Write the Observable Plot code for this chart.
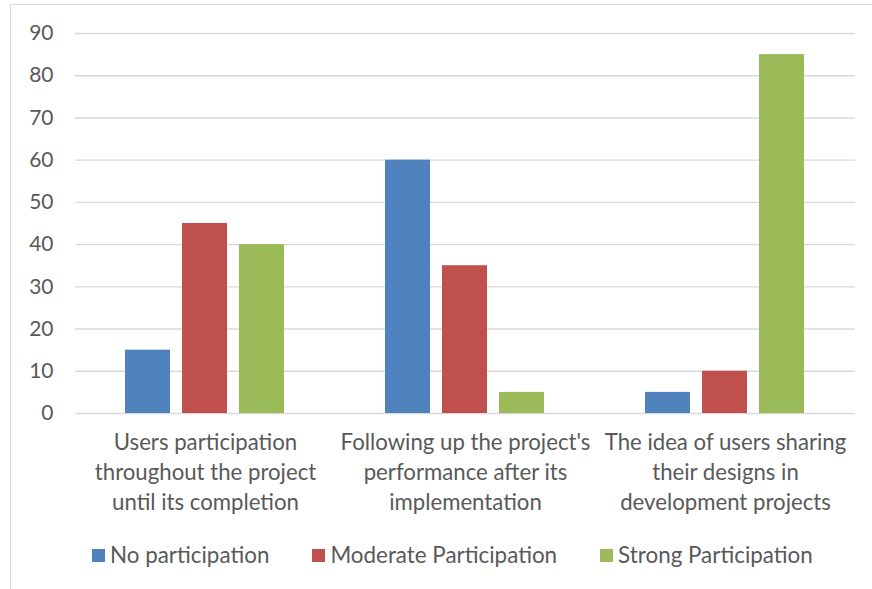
<!DOCTYPE html>
<html>
<head>
<meta charset="utf-8">
<script src="https://cdn.jsdelivr.net/npm/d3@7"></script>
<script src="https://cdn.jsdelivr.net/npm/@observablehq/plot@0.6"></script>
<style>
  html, body { margin: 0; padding: 0; background: #fff; overflow: hidden; }
  body { width: 872px; height: 589px; position: relative; font-family: Lato, "Open Sans", sans-serif; color: #595959; }
  #frame { position: absolute; left: 10px; top: 4px; width: 900px; height: 620px; border: 1px solid #d9d9d9; box-sizing: border-box; }
  #chart { position: absolute; left: 0; top: 0; }
  #legend { position: absolute; left: 92px; top: 541px; display: flex; gap: 43px; font-size: 22.4px; line-height: 28px; }
  #legend .item { display: flex; align-items: center; }
  #legend .sw { width: 13px; height: 13px; margin-right: 5px; display: inline-block; }
</style>
</head>
<body>
<div id="frame"></div>
<div id="chart"></div>
<div id="legend"></div>
<script>
const categories = [
  "Users participation throughout the project until its completion",
  "Following up the project's performance after its implementation",
  "The idea of users sharing their designs in development projects"
];
const categoryLabels = [
  "Users participation\nthroughout the project\nuntil its completion",
  "Following up the project's\nperformance after its\nimplementation",
  "The idea of users sharing\ntheir designs in\ndevelopment projects"
];
const series = ["No participation", "Moderate Participation", "Strong Participation"];
const colors = ["#4f81bd", "#c0504d", "#9bbb59"];
const noParticipation = [15, 60, 5];
const moderateParticipation = [45, 35, 10];
const strongParticipation = [40, 5, 85];
const yTicks = [0, 10, 20, 30, 40, 50, 60, 70, 80, 90];

const seriesValues = [noParticipation, moderateParticipation, strongParticipation];
const data = [];
categories.forEach((c, i) => {
  series.forEach((s, j) => data.push({category: c, series: s, value: seriesValues[j][i]}));
});
const labelOf = new Map(categories.map((c, i) => [c, categoryLabels[i]]));

const chart = Plot.plot({
  width: 872,
  height: 522,
  marginLeft: 75,
  marginRight: 17,
  marginTop: 33,
  marginBottom: 109,
  style: {fontFamily: "Lato, 'Open Sans', sans-serif", fontSize: "21px", color: "#595959", background: "transparent"},
  fx: {domain: categories, padding: 0, label: null, axis: null},
  x: {domain: series, paddingInner: 0.207, paddingOuter: 0.845, axis: null},
  y: {domain: [0, 90], ticks: yTicks, label: null, axis: null},
  color: {domain: series, range: colors},
  marks: [
    Plot.ruleY(yTicks, {y: d => d, stroke: "#d9d9d9", strokeWidth: 1.4}),
    Plot.barY(data, {fx: "category", x: "series", y: "value", fill: "series"}),
    Plot.axisY({ticks: yTicks, tickSize: 0, tickPadding: 22, fontSize: 21, fill: "#595959", label: null}),
    Plot.axisFx({anchor: "bottom", lineAnchor: "top", tickSize: 0, tickPadding: 16, fontSize: 22.2, fill: "#595959", lineHeight: 1.33, tickFormat: d => labelOf.get(d), label: null})
  ]
});
document.getElementById("chart").appendChild(chart);

const legend = document.getElementById("legend");
series.forEach((s, j) => {
  const item = document.createElement("div");
  item.className = "item";
  const sw = document.createElement("span");
  sw.className = "sw";
  sw.style.background = colors[j];
  const t = document.createElement("span");
  t.textContent = s;
  item.appendChild(sw);
  item.appendChild(t);
  legend.appendChild(item);
});
</script>
</body>
</html>
